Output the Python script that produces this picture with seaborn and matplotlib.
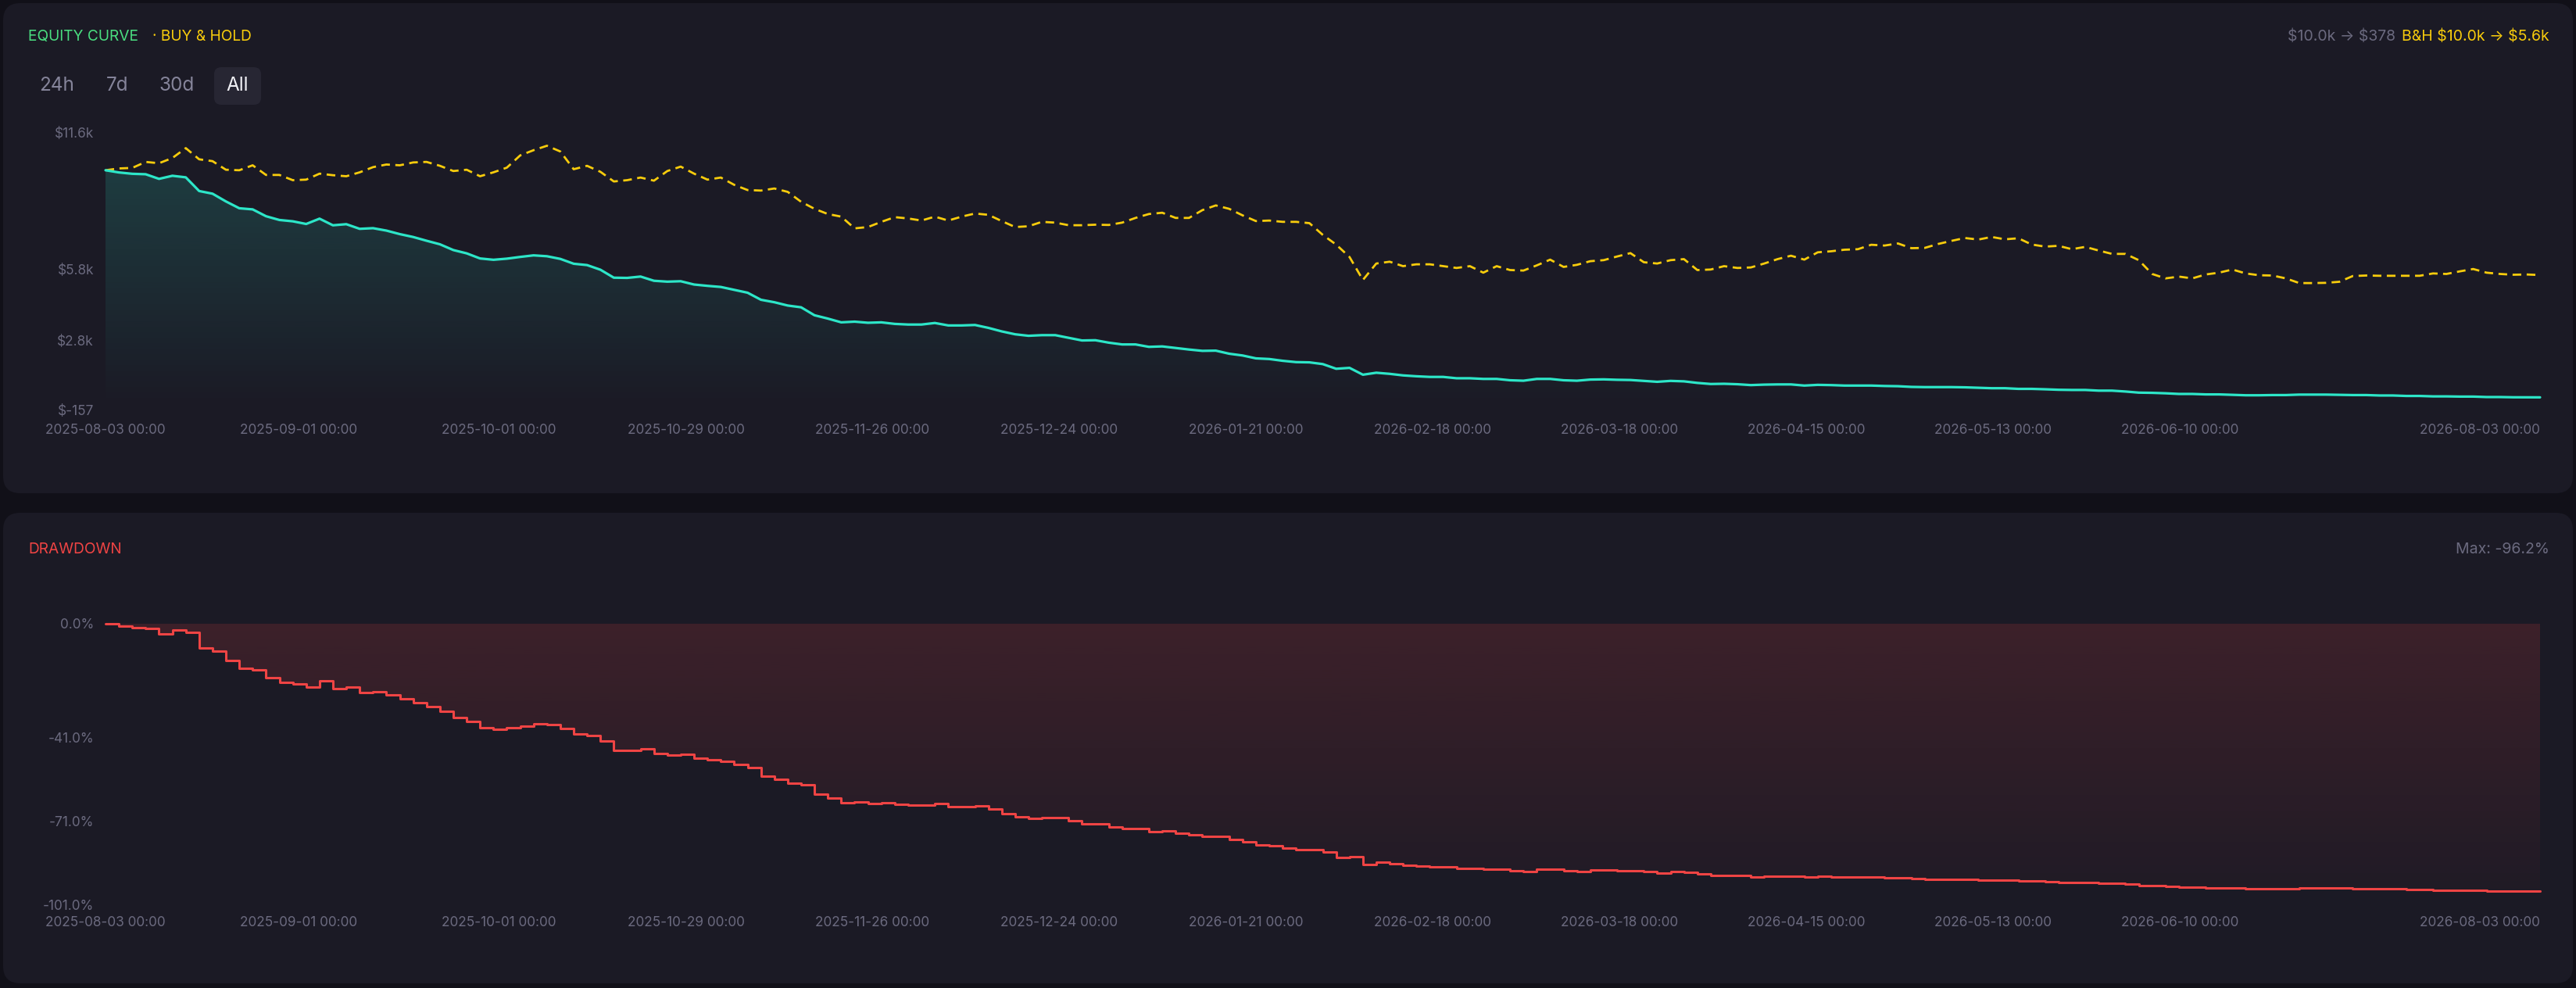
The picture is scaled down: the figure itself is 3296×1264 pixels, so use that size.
import numpy as np
import pandas as pd
import seaborn as sns
import matplotlib.pyplot as plt
import matplotlib.colors as mcolors
import matplotlib.dates as mdates
from matplotlib.patches import FancyBboxPatch

# ---- values (one point every ~2 days) ----
start_date = '2025-08-03'
end_date = '2026-08-03'

equity = [10000, 9907, 9850, 9831, 9635, 9766, 9700, 9120, 9007, 8679,
          8390, 8342, 8052, 7893, 7837, 7724, 7949, 7668, 7715, 7518,
          7546, 7443, 7294, 7172, 7013, 6863, 6619, 6479, 6263, 6207,
          6254, 6328, 6394, 6357, 6244, 6039, 5982, 5785, 5448, 5439,
          5496, 5317, 5280, 5298, 5158, 5102, 5055, 4933, 4811, 4512,
          4408, 4268, 4193, 3856, 3715, 3556, 3585, 3538, 3556, 3490,
          3463, 3463, 3529, 3425, 3425, 3444, 3322, 3172, 3050, 2986,
          3013, 3013, 2901, 2788, 2798, 2695, 2620, 2620, 2517, 2536,
          2470, 2404, 2348, 2357, 2227, 2152, 2030, 2002, 1927, 1871,
          1861, 1787, 1589, 1627, 1337, 1421, 1374, 1308, 1271, 1244,
          1244, 1187, 1187, 1159, 1159, 1102, 1083, 1159, 1159, 1102,
          1083, 1131, 1140, 1122, 1113, 1075, 1037, 1075, 1056, 990,
          944, 953, 934, 897, 917, 926, 926, 877, 907, 897,
          877, 877, 877, 859, 850, 821, 812, 812, 812, 803,
          784, 765, 765, 737, 737, 720, 699, 691, 691, 662,
          662, 625, 578, 569, 550, 522, 522, 503, 503, 484,
          466, 466, 475, 475, 494, 494, 494, 484, 475, 475,
          457, 457, 437, 437, 419, 419, 410, 410, 391, 391,
          381, 381, 378]

buy_hold = [10000, 10077, 10099, 10353, 10298, 10519, 10938, 10464, 10386, 10022,
            10000, 10210, 9801, 9801, 9580, 9603, 9856, 9790, 9746, 9912,
            10132, 10243, 10210, 10331, 10353, 10188, 9967, 10022, 9746, 9912,
            10110, 10629, 10850, 11038, 10795, 10044, 10188, 9934, 9525, 9580,
            9691, 9558, 9967, 10155, 9856, 9603, 9691, 9382, 9161, 9139,
            9227, 9084, 8664, 8366, 8145, 8035, 7538, 7594, 7814, 8013,
            7958, 7869, 8035, 7869, 8035, 8167, 8112, 7847, 7594, 7627,
            7814, 7781, 7671, 7671, 7693, 7682, 7781, 7980, 8145, 8200,
            7980, 7980, 8311, 8510, 8366, 8090, 7847, 7869, 7814, 7814,
            7759, 7262, 6850, 6324, 5352, 6048, 6125, 5937, 6015, 6015,
            5937, 5860, 5937, 5661, 5937, 5772, 5750, 5970, 6213, 5904,
            5993, 6147, 6191, 6346, 6489, 6103, 6048, 6191, 6235, 5772,
            5794, 5937, 5860, 5882, 6048, 6235, 6379, 6213, 6523, 6567,
            6633, 6655, 6843, 6810, 6898, 6699, 6710, 6876, 7008, 7130,
            7063, 7174, 7074, 7118, 6853, 6765, 6798, 6655, 6754, 6599,
            6456, 6456, 6191, 5606, 5418, 5495, 5418, 5584, 5661, 5794,
            5628, 5551, 5540, 5418, 5220, 5220, 5230, 5275, 5518, 5540,
            5529, 5529, 5529, 5529, 5628, 5606, 5716, 5816, 5661, 5606,
            5573, 5584, 5560]

x_tick_dates = ['2025-08-03', '2025-09-01', '2025-10-01', '2025-10-29',
                '2025-11-26', '2025-12-24', '2026-01-21', '2026-02-18',
                '2026-03-18', '2026-04-15', '2026-05-13', '2026-06-10',
                '2026-08-03']
equity_ticks = [11600, 5800, 2800, -157]
drawdown_ticks = [0, -41, -71, -101]
range_buttons = ['24h', '7d', '30d', 'All']

# colours
OUTER = '#111018'
PANEL = '#1b1a25'
BTN = '#272633'
GRAY = '#6b6a7f'
GREEN = '#4ade80'
YELLOW = '#f8cc0c'
TEAL = '#2de6c8'
RED = '#ef4444'

W, H = 3296, 1264

dates = pd.date_range(start_date, end_date, periods=len(equity))
df = pd.DataFrame({'date': dates, 'equity': equity, 'buy_hold': buy_hold})
df['drawdown'] = (df['equity'] / df['equity'].cummax() - 1) * 100


def money(v):
    if abs(v) >= 1000:
        return f'${v / 1000:.1f}k'
    return f'${v:.0f}'


def gradient_fill(ax, x, y, base, color, a_top, a_bottom, y_top, y_bottom, step=None):
    poly = ax.fill_between(x, y, base, step=step, facecolor='none', edgecolor='none')
    grad = np.zeros((256, 1, 4))
    grad[..., :3] = mcolors.to_rgb(color)
    grad[..., 3] = np.linspace(a_bottom, a_top, 256)[:, None]
    xn = mdates.date2num(x)
    im = ax.imshow(grad, extent=[xn[0], xn[-1], y_bottom, y_top], origin='lower',
                   aspect='auto', zorder=1, interpolation='bilinear')
    im.set_clip_path(poly.get_paths()[0], transform=ax.transData)


sns.set_theme(style='dark', rc={'axes.facecolor': 'none', 'figure.facecolor': OUTER})
plt.rcParams['font.family'] = ['Inter', 'DejaVu Sans']
plt.rcParams['text.parse_math'] = False

fig = plt.figure(figsize=(W / 100, H / 100), dpi=100)
tr = fig.dpi_scale_trans


def px(x, y):
    return (x / 100, (H - y) / 100)


# card backgrounds
for top, bottom in [(4, 631), (656, 1258)]:
    fig.patches.append(FancyBboxPatch(px(4, bottom), (W - 8) / 100, (bottom - top) / 100,
                                      boxstyle='round,pad=0,rounding_size=0.22',
                                      transform=tr, facecolor=PANEL, edgecolor='none', zorder=-1))

ax1 = fig.add_axes([135 / W, 1 - 524.5 / H, 3115 / W, 355 / H])
ax2 = fig.add_axes([135 / W, 1 - 1157 / H, 3115 / W, 359 / H])

# equity curve
sns.lineplot(data=df, x='date', y='buy_hold', ax=ax1, color=YELLOW, linewidth=2.0,
             linestyle=(0, (4, 2.5)), zorder=3, clip_on=False)
sns.lineplot(data=df, x='date', y='equity', ax=ax1, color=TEAL, linewidth=2.3,
             zorder=4, clip_on=False)
gradient_fill(ax1, df['date'], df['equity'], -157, TEAL, 0.17, 0.0, 10000, -157)
ax1.set_ylim(-157, 11600)
ax1.set_yticks(equity_ticks)
ax1.set_yticklabels([money(v) for v in equity_ticks])

# drawdown
sns.lineplot(data=df, x='date', y='drawdown', ax=ax2, color=RED, linewidth=2.2,
             drawstyle='steps-post', zorder=4, clip_on=False)
gradient_fill(ax2, df['date'], df['drawdown'], 0, RED, 0.16, 0.02, 0, -101, step='post')
ax2.set_ylim(-101, 0)
ax2.set_yticks(drawdown_ticks)
ax2.set_yticklabels([f'{v:.1f}%' for v in drawdown_ticks])

for ax, xpad in [(ax1, 12.6), (ax2, 10.8)]:
    ax.set_xlim(dates[0], dates[-1])
    ax.set_xticks(pd.to_datetime(x_tick_dates))
    ax.set_xticklabels([d + ' 00:00' for d in x_tick_dates])
    ax.get_xticklabels()[-1].set_horizontalalignment('right')
    ax.tick_params(length=0, colors=GRAY, labelsize=12.4)
    ax.tick_params(axis='x', pad=xpad)
    ax.tick_params(axis='y', pad=10.8)
    ax.set(xlabel='', ylabel='')
    ax.grid(False)
    for s in ax.spines.values():
        s.set_visible(False)

# headers
fig.text(*px(36, 47), 'EQUITY CURVE', transform=tr, color=GREEN, fontsize=13.8, va='center')
fig.text(*px(195, 47), '· BUY & HOLD', transform=tr, color=YELLOW, fontsize=13.8, va='center')
fig.text(*px(3262, 47), f'B&H {money(buy_hold[0])} → {money(buy_hold[-1])}', transform=tr,
         color=YELLOW, fontsize=14, va='center', ha='right')
fig.text(*px(3065, 47), f'{money(equity[0])} → {money(equity[-1])}', transform=tr,
         color=GRAY, fontsize=14, va='center', ha='right')

fig.patches.append(FancyBboxPatch(px(274, 134), 0.60, 0.48,
                                  boxstyle='round,pad=0,rounding_size=0.09',
                                  transform=tr, facecolor=BTN, edgecolor='none', zorder=-0.5))
for label, cx in zip(range_buttons, [73, 150, 226, 304]):
    fig.text(*px(cx, 110), label, transform=tr, fontsize=17.5,
             color='#f0f0f5' if label == 'All' else '#85849a', ha='center', va='center')

fig.text(*px(36, 703), 'DRAWDOWN', transform=tr, color=RED, fontsize=13.8, va='center')
fig.text(*px(3262, 703), f"Max: {df['drawdown'].min():.1f}%", transform=tr,
         color=GRAY, fontsize=14, va='center', ha='right')

fig.savefig('out.png', dpi=100, facecolor=OUTER)
